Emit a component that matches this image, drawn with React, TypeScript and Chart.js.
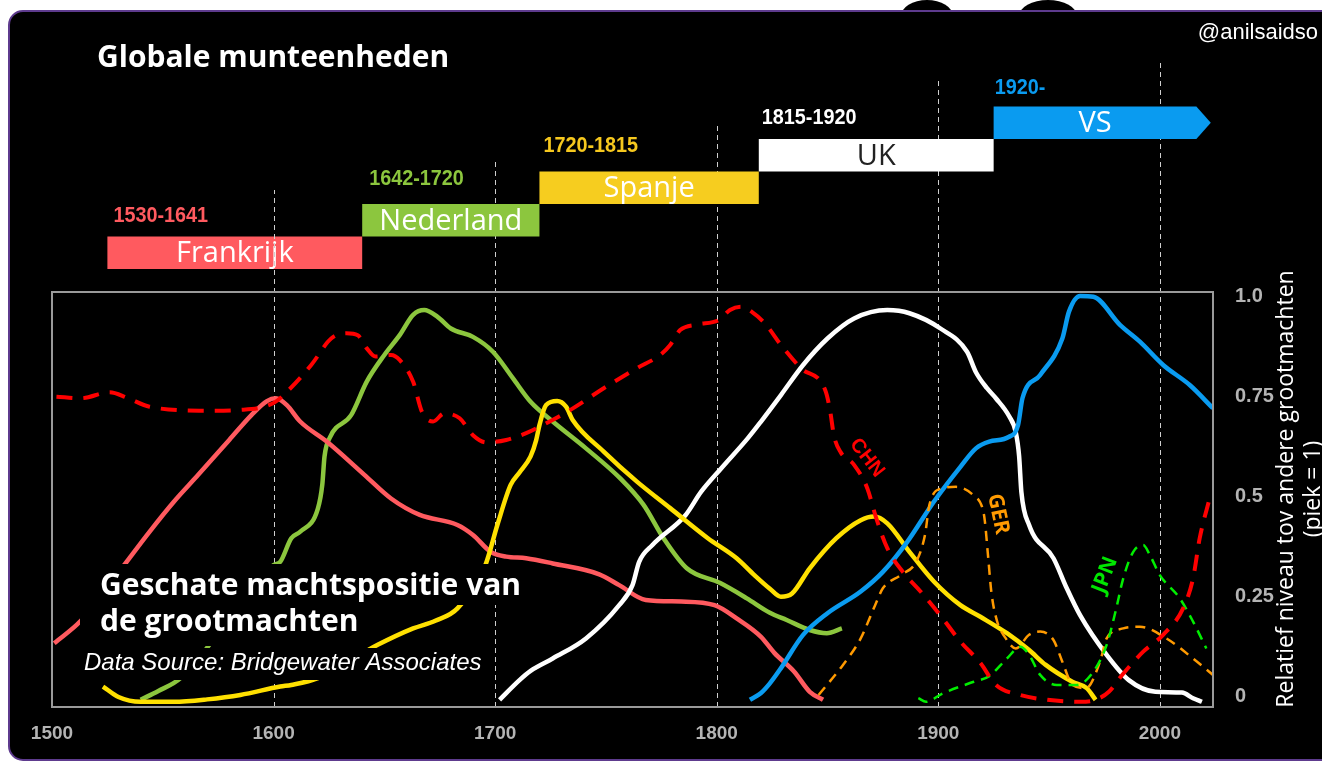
import React, { useEffect, useRef } from 'react';
import { Chart, registerables } from 'chart.js';

Chart.register(...registerables);

// ---------- axis data ----------
const xTickYears = [1500, 1600, 1700, 1800, 1900, 2000];
const gridYears = [1600, 1700, 1800, 1900, 2000];
const yTickValues = [0, 0.25, 0.5, 0.75, 1];
const yTickLabels = ['0', '0.25', '0.5', '0.75', '1.0'];

// ---------- reserve-currency eras ----------
const eraNames = ['Frankrijk', 'Nederland', 'Spanje', 'UK', 'VS'];
const eraLabels = ['1530-1641', '1642-1720', '1720-1815', '1815-1920', '1920-'];
const eraStart = [1525, 1640, 1720, 1819, 1925];
const eraEnd = [1640, 1720, 1819, 1925, 2016.5];
const eraArrowTip = 2023;

// ---------- series ----------
const fraYears = [1501, 1513, 1532, 1544, 1555, 1566, 1580, 1590, 1597, 1601, 1606, 1612, 1624, 1641, 1653, 1666, 1683, 1690, 1698, 1705, 1714, 1726, 1747, 1756, 1768, 1784, 1799, 1809, 1820, 1826, 1835, 1842, 1848];
const fraVals = [0.134, 0.19, 0.325, 0.412, 0.487, 0.554, 0.641, 0.703, 0.738, 0.745, 0.728, 0.687, 0.637, 0.554, 0.495, 0.454, 0.429, 0.404, 0.362, 0.35, 0.346, 0.333, 0.306, 0.279, 0.242, 0.238, 0.229, 0.196, 0.15, 0.11, 0.063, 0.013, -0.007];

const nldYears = [1540, 1548, 1558, 1600, 1603, 1608, 1612, 1620, 1622, 1623, 1625.5, 1635, 1642, 1650, 1657, 1663, 1668, 1674, 1680, 1690, 1699, 1708, 1716, 1726, 1741, 1756.5, 1767, 1776, 1786.5, 1801.6, 1813.6, 1824, 1831.6, 1842, 1849.7, 1856.5];
const nldVals = [-0.007, 0.015, 0.047, 0.329, 0.337, 0.396, 0.412, 0.47, 0.53, 0.6, 0.648, 0.703, 0.786, 0.853, 0.903, 0.953, 0.965, 0.948, 0.919, 0.898, 0.861, 0.795, 0.736, 0.687, 0.62, 0.545, 0.479, 0.396, 0.321, 0.284, 0.246, 0.21, 0.192, 0.167, 0.159, 0.171];

const espYears = [1523, 1530, 1540, 1555, 1570, 1585, 1603, 1608, 1620, 1647, 1663, 1673, 1683, 1695.6, 1701, 1707, 1711, 1716, 1718.5, 1720, 1723, 1728, 1732, 1735, 1749, 1764, 1779, 1796, 1809, 1817, 1824, 1829, 1834, 1842, 1854, 1865, 1871, 1877, 1887, 1898, 1910, 1919, 1931, 1941, 1948.5, 1960.5, 1967, 1971];
const espVals = [0.026, 0.0, -0.012, -0.012, -0.006, 0.005, 0.026, 0.03, 0.047, 0.13, 0.171, 0.19, 0.221, 0.329, 0.429, 0.529, 0.56, 0.6, 0.64, 0.678, 0.728, 0.738, 0.724, 0.691, 0.612, 0.537, 0.471, 0.396, 0.346, 0.304, 0.27, 0.25, 0.258, 0.321, 0.396, 0.441, 0.45, 0.433, 0.362, 0.288, 0.229, 0.2, 0.159, 0.117, 0.08, 0.038, 0.022, -0.007];

const gbrYears = [1702, 1711, 1716, 1726, 1741, 1756, 1762, 1765, 1771, 1786, 1793, 1802, 1814, 1820, 1829, 1839, 1850, 1862, 1877, 1887, 1901, 1913, 1917, 1922, 1926, 1932, 1935, 1936.5, 1937.5, 1941, 1952, 1958, 1964, 1976, 1986, 1998, 2010, 2015, 2019];
const gbrVals = [-0.007, 0.042, 0.065, 0.096, 0.146, 0.229, 0.279, 0.337, 0.379, 0.454, 0.512, 0.57, 0.645, 0.687, 0.753, 0.828, 0.894, 0.944, 0.965, 0.957, 0.919, 0.861, 0.81, 0.77, 0.745, 0.7, 0.66, 0.6, 0.512, 0.429, 0.346, 0.271, 0.204, 0.105, 0.042, 0.013, 0.011, -0.003, -0.012];

const usaYears = [1815, 1820, 1824, 1829, 1839, 1850, 1865, 1875, 1886, 1898, 1910, 1917, 1923, 1932, 1936, 1938, 1946, 1956, 1959, 1964, 1970, 1982, 1991, 2001.5, 2013.5, 2024];
const usaVals = [-0.007, 0.01, 0.034, 0.072, 0.155, 0.209, 0.263, 0.312, 0.387, 0.487, 0.574, 0.62, 0.637, 0.649, 0.678, 0.745, 0.803, 0.894, 0.961, 1.0, 0.998, 0.928, 0.886, 0.828, 0.778, 0.72];

const chnYears = [1502, 1513, 1526, 1534, 1544, 1570, 1585, 1600, 1606, 1617, 1626, 1633, 1638, 1642, 1646, 1653, 1657, 1663, 1667, 1672, 1677, 1684, 1690, 1696, 1705, 1714, 1720, 1734, 1749, 1764, 1774.5, 1779, 1783.5, 1791, 1801, 1806, 1811, 1816, 1822, 1829, 1838, 1849, 1851, 1853, 1856, 1862, 1868, 1872, 1877, 1884, 1892, 1902, 1910, 1919, 1926, 1937, 1949, 1964, 1971, 1977, 1983, 1992.5, 2001.5, 2010.5, 2015, 2018, 2022.5];
const chnVals = [0.749, 0.745, 0.76, 0.746, 0.724, 0.714, 0.716, 0.733, 0.761, 0.828, 0.894, 0.907, 0.902, 0.87, 0.849, 0.853, 0.84, 0.786, 0.711, 0.687, 0.707, 0.695, 0.653, 0.635, 0.641, 0.658, 0.674, 0.716, 0.77, 0.82, 0.853, 0.878, 0.915, 0.929, 0.94, 0.965, 0.973, 0.96, 0.93, 0.878, 0.82, 0.765, 0.72, 0.65, 0.61, 0.579, 0.52, 0.446, 0.371, 0.312, 0.263, 0.196, 0.138, 0.085, 0.03, 0.005, -0.007, -0.012, -0.007, 0.013, 0.055, 0.113, 0.155, 0.221, 0.296, 0.396, 0.496];

const deuYears = [1846, 1857, 1865, 1871.5, 1875, 1883, 1890, 1894, 1896, 1901.5, 1908, 1915.7, 1920, 1921, 1922.5, 1924, 1926.5, 1930, 1935, 1941, 1946, 1952, 1956, 1960.6, 1966.7, 1973, 1976, 1983.5, 1991, 2003, 2015, 2024];
const deuVals = [0.005, 0.08, 0.146, 0.229, 0.271, 0.304, 0.337, 0.404, 0.479, 0.52, 0.524, 0.504, 0.47, 0.44, 0.35, 0.26, 0.19, 0.15, 0.121, 0.155, 0.163, 0.142, 0.088, 0.03, 0.022, 0.088, 0.146, 0.171, 0.175, 0.146, 0.096, 0.055];

const jpnYears = [1891, 1894.5, 1902, 1916, 1923, 1931, 1937, 1941, 1946, 1953.5, 1962.6, 1970, 1976, 1980, 1983.5, 1988, 1992.5, 1995.5, 2000, 2009, 2015, 2021];
const jpnVals = [-0.003, -0.012, 0.009, 0.038, 0.052, 0.096, 0.125, 0.105, 0.055, 0.03, 0.03, 0.063, 0.13, 0.213, 0.296, 0.362, 0.379, 0.354, 0.304, 0.246, 0.188, 0.121];

// ---------- styles ----------
const ERA_COLORS = ['#ff5a5f', '#8cc63e', '#f6cd1f', '#ffffff', '#0a9bf0'];
const ERA_TEXT_COLORS = ['#ffffff', '#ffffff', '#ffffff', '#222222', '#ffffff'];
const ERA_LABEL_COLORS = ['#ff5a5f', '#8cc63e', '#f6c81e', '#ffffff', '#0a9bf0'];
const ERA_TOP = [236.5, 204, 171.5, 139, 106.5];
const ERA_H = 32.5;
const ERA_LABEL_Y = [216, 179, 146, 117.5, 88];
const ERA_LABEL_DX = [6, 7, 4, 3, 1];
const GRID_TOP = [190, 159, 122, 80, 60];
const GRID_OVER_BARS = [true, false, false, false, false];

const SANS = '"Liberation Sans", Arial, sans-serif';
const OPEN = '"Open Sans", "Noto Sans", sans-serif';

const pts = (xs: number[], ys: number[]) => xs.map((x, i) => ({ x, y: ys[i] }));

const drawGuides = (chart: any, over: boolean) => {
  const { ctx, chartArea } = chart;
  const xs = chart.scales.x;
  ctx.save();
  ctx.strokeStyle = '#cfcfcf';
  ctx.lineWidth = 1;
  ctx.setLineDash([5, 4]);
  gridYears.forEach((yr, i) => {
    if (GRID_OVER_BARS[i] !== over) return;
    const px = Math.round(xs.getPixelForValue(yr)) + 0.5;
    ctx.beginPath();
    ctx.moveTo(px, chartArea.bottom);
    ctx.lineTo(px, GRID_TOP[i]);
    ctx.stroke();
  });
  ctx.restore();
};

const decor = {
  id: 'decor',
  beforeDraw(chart: any) {
    const { ctx } = chart;
    ctx.save();
    ctx.fillStyle = '#ffffff';
    ctx.fillRect(0, 0, chart.width, chart.height);
    ctx.fillStyle = '#000';
    ctx.beginPath();
    ctx.ellipse(927, 16, 26, 16, 0, 0, Math.PI * 2);
    ctx.fill();
    ctx.beginPath();
    ctx.ellipse(1048, 16, 29, 16, 0, 0, Math.PI * 2);
    ctx.fill();
    // panel
    ctx.beginPath();
    ctx.roundRect(9, 11, 1420, 749, 14);
    ctx.fillStyle = '#000';
    ctx.fill();
    ctx.lineWidth = 2;
    ctx.strokeStyle = '#5e3b8e';
    ctx.stroke();
    // title
    ctx.fillStyle = '#fff';
    ctx.textBaseline = 'middle';
    ctx.textAlign = 'left';
    ctx.font = `bold 30px ${OPEN}`;
    ctx.fillText('Globale munteenheden', 97, 58);
    ctx.font = `22px ${SANS}`;
    ctx.textAlign = 'right';
    ctx.fillText('@anilsaidso', 1318, 33);
    ctx.restore();
  },
  beforeDatasetsDraw(chart: any) {
    const { ctx } = chart;
    const xs = chart.scales.x;
    drawGuides(chart, false);
    ctx.save();
    // era bars
    eraNames.forEach((name, i) => {
      const x0 = xs.getPixelForValue(eraStart[i]);
      const x1 = xs.getPixelForValue(eraEnd[i]);
      const top = ERA_TOP[i];
      ctx.fillStyle = ERA_COLORS[i];
      ctx.beginPath();
      if (i === eraNames.length - 1) {
        const tip = xs.getPixelForValue(eraArrowTip);
        ctx.moveTo(x0, top);
        ctx.lineTo(x1, top);
        ctx.lineTo(tip, top + ERA_H / 2);
        ctx.lineTo(x1, top + ERA_H);
        ctx.lineTo(x0, top + ERA_H);
        ctx.closePath();
      } else {
        ctx.rect(x0, top, x1 - x0, ERA_H);
      }
      ctx.fill();
      ctx.fillStyle = ERA_TEXT_COLORS[i];
      ctx.font = `29px ${OPEN}`;
      ctx.textAlign = 'center';
      ctx.textBaseline = 'middle';
      ctx.fillText(name, (x0 + x1) / 2, top + ERA_H / 2 + 1);
      // period label (condensed bold)
      ctx.save();
      ctx.fillStyle = ERA_LABEL_COLORS[i];
      ctx.font = `bold 22px ${SANS}`;
      ctx.textAlign = 'left';
      ctx.translate(x0 + ERA_LABEL_DX[i], ERA_LABEL_Y[i]);
      ctx.scale(0.9, 1);
      ctx.fillText(eraLabels[i], 0, 0);
      ctx.restore();
    });
    ctx.restore();
    drawGuides(chart, true);
  },
  afterDatasetsDraw(chart: any) {
    const { ctx, chartArea } = chart;
    ctx.save();
    // plot frame
    ctx.strokeStyle = '#9a9a9a';
    ctx.lineWidth = 2;
    ctx.strokeRect(chartArea.left, chartArea.top, chartArea.right - chartArea.left, chartArea.bottom - chartArea.top);
    // overlay captions with black backing
    ctx.fillStyle = '#000';
    ctx.fillRect(80, 564, 452, 41);
    ctx.fillRect(80, 605, 287, 41);
    ctx.fillRect(80, 648, 408, 32);
    ctx.fillStyle = '#fff';
    ctx.textAlign = 'left';
    ctx.textBaseline = 'middle';
    ctx.font = `bold 30px ${OPEN}`;
    ctx.fillText('Geschate machtspositie van', 100, 586);
    ctx.fillText('de grootmachten', 100, 622);
    ctx.font = `italic 24px ${SANS}`;
    ctx.fillText('Data Source: Bridgewater Associates', 84, 663);
    // series labels
    const lab = (t: string, x: number, y: number, deg: number, color: string, font: string) => {
      ctx.save();
      ctx.translate(x, y);
      ctx.rotate((deg * Math.PI) / 180);
      ctx.fillStyle = color;
      ctx.font = font;
      ctx.textAlign = 'center';
      ctx.textBaseline = 'middle';
      ctx.fillText(t, 0, 0);
      ctx.restore();
    };
    lab('CHN', 867, 458, 52, '#ff0000', `bold 20px ${SANS}`);
    lab('GER', 998, 514, 78, '#ff9a00', `bold 21px ${OPEN}`);
    lab('JPN', 1105, 575, -69, '#00e600', `bold 21px ${OPEN}`);
    // right axis title
    ctx.fillStyle = '#fff';
    ctx.font = `23px ${OPEN}`;
    ctx.textAlign = 'center';
    ctx.textBaseline = 'middle';
    ctx.save();
    ctx.translate(1286, 489);
    ctx.rotate(-Math.PI / 2);
    ctx.fillText('Relatief niveau tov andere grootmachten', 0, 0);
    ctx.restore();
    ctx.save();
    ctx.translate(1313, 489);
    ctx.rotate(-Math.PI / 2);
    ctx.fillText('(piek = 1)', 0, 0);
    ctx.restore();
    ctx.restore();
  },
};

export default function App() {
  const ref = useRef<HTMLCanvasElement>(null);
  useEffect(() => {
    const canvas = ref.current;
    if (!canvas) return;
    const solid = (label: string, xs: number[], ys: number[], color: string) => ({
      label,
      data: pts(xs, ys),
      borderColor: color,
      borderWidth: 4.5,
      pointRadius: 0,
      cubicInterpolationMode: 'monotone' as const,
      borderJoinStyle: 'round' as const,
      fill: false,
    });
    const dashed = (label: string, xs: number[], ys: number[], color: string, w: number, dash: number[]) => ({
      ...solid(label, xs, ys, color),
      borderWidth: w,
      borderDash: dash,
    });
    const chart = new Chart(canvas, {
      type: 'line',
      data: {
        datasets: [
          dashed('CHN', chnYears, chnVals, '#ff0000', 4, [16, 11]),
          dashed('JPN', jpnYears, jpnVals, '#00ee00', 2.5, [10, 7]),
          dashed('GER', deuYears, deuVals, '#ff9a00', 2.5, [10, 7]),
          solid('US', usaYears, usaVals, '#0a9bf0'),
          solid('Spanje', espYears, espVals, '#ffe000'),
          solid('UK', gbrYears, gbrVals, '#ffffff'),
          solid('Frankrijk', fraYears, fraVals, '#ff5a5f'),
          solid('Nederland', nldYears, nldVals, '#8cc63e'),
        ],
      },
      options: {
        animation: false,
        responsive: false,
        events: [],
        layout: { padding: { left: 52, top: 292, right: 0, bottom: 0 } },
        plugins: { legend: { display: false }, tooltip: { enabled: false }, title: { display: false } },
        scales: {
          x: {
            type: 'linear',
            min: 1500,
            max: 2024,
            grid: { display: false },
            border: { display: false },
            ticks: {
              color: '#b4b4b4',
              font: { family: SANS, weight: 'bold', size: 19 },
              padding: 7,
              autoSkip: false,
              maxRotation: 0,
              callback: (v: any) => String(v),
            },
            afterBuildTicks: (s: any) => {
              s.ticks = xTickYears.map((v) => ({ value: v }));
            },
            afterFit: (s: any) => {
              s.height = 55;
            },
          },
          y: {
            type: 'linear',
            position: 'right',
            min: -0.025,
            max: 1.01,
            grid: { display: false },
            border: { display: false },
            ticks: {
              color: '#b4b4b4',
              font: { family: SANS, weight: 'bold', size: 20 },
              padding: 14,
              callback: (v: any) => {
                const i = yTickValues.indexOf(Number(v));
                return i >= 0 ? yTickLabels[i] : '';
              },
            },
            afterBuildTicks: (s: any) => {
              s.ticks = yTickValues.map((v) => ({ value: v }));
            },
            afterFit: (s: any) => {
              s.width = 109;
            },
          },
        },
      },
      plugins: [decor],
    } as any);
    return () => chart.destroy();
  }, []);
  return (
    <div style={{ position: 'fixed', left: 0, top: 0, width: 1322, height: 762, overflow: 'hidden', background: '#fff' }}>
      <canvas ref={ref} width={1322} height={762} style={{ display: 'block', width: 1322, height: 762 }} />
    </div>
  );
}
